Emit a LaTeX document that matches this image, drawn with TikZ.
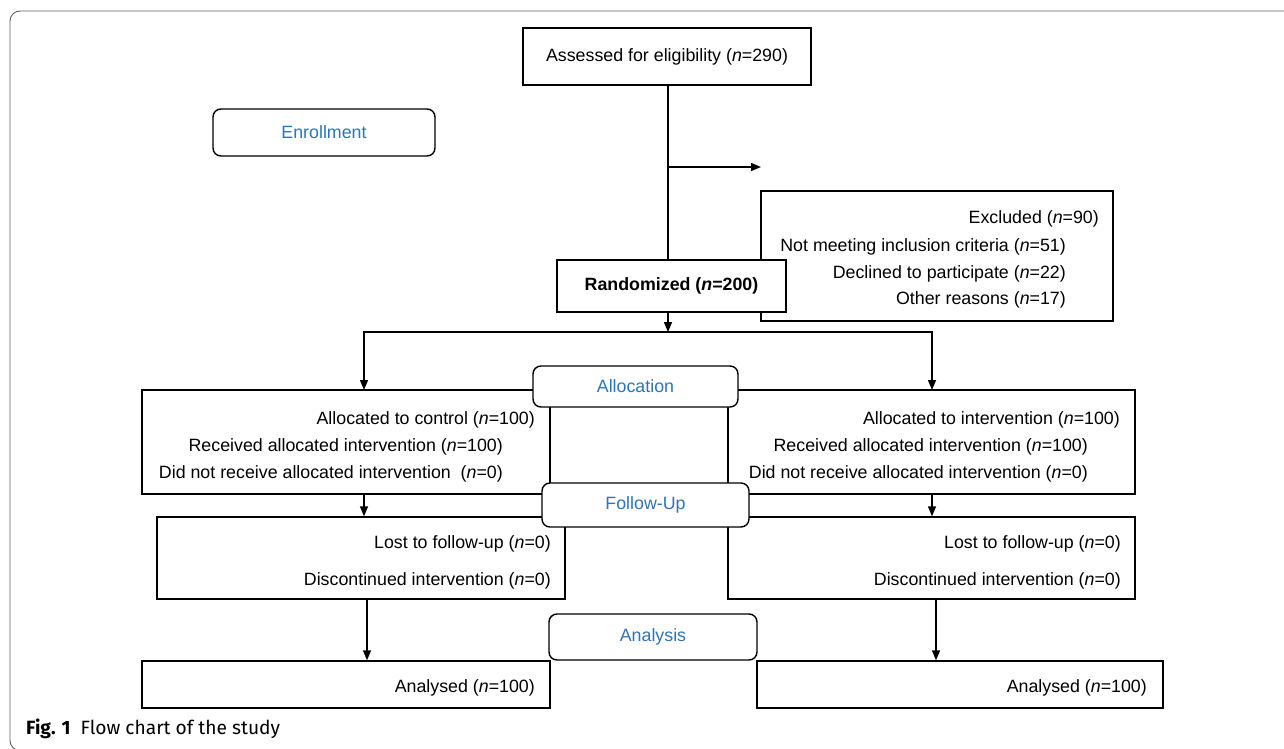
\documentclass[tikz,border=0pt]{standalone}
\usepackage{fontspec}
\setmainfont{Liberation Sans}
\newfontfamily\capfont{Fira Sans}
\usetikzlibrary{arrows.meta}
\definecolor{lblblue}{RGB}{46,117,182}
\definecolor{framegray}{RGB}{95,95,95}
\begin{document}
\begin{tikzpicture}[x=1pt,y=-1pt,
  every node/.style={font=\fontsize{17.8}{21}\selectfont},
  box/.style={draw, line width=1.4pt, fill=white, inner sep=0pt},
  phase/.style={box, rounded corners=8pt, text=lblblue},
  lbl/.style={anchor=east, inner sep=0pt, text height=12.7pt, text depth=0pt},
  arr/.style={line width=1.4pt, -{Triangle[length=10pt,width=8pt]}},
  conn/.style={line width=1.4pt}]
\useasboundingbox (0,0) rectangle (1284,749);
\begin{scope}
  \clip (0,0) rectangle (1284,749);
  \draw[framegray, line width=0.9pt, rounded corners=10pt] (1300,11) -- (10,11) -- (10,750.5) -- (1300,750.5);
\end{scope}

% enrollment
\node[box, minimum width=288pt, minimum height=57pt] (assess) at (667,56.5) {Assessed for eligibility (\textit{n}=290)};
\node[phase, minimum width=222pt, minimum height=47pt] (enroll) at (324,132.5) {Enrollment};
\node[box, minimum width=352pt, minimum height=130pt] (excl) at (937,256) {};
\node[lbl] (ex1) at (1099,217) {Excluded (\textit{n}=90)};
\node[lbl] (ex2) at (1066,245) {Not meeting inclusion criteria (\textit{n}=51)};
\node[lbl] (ex3) at (1066,272) {Declined to participate (\textit{n}=22)};
\node[lbl] (ex4) at (1066,298) {Other reasons (\textit{n}=17)};
\node[box, minimum width=229pt, minimum height=52pt] (rand) at (671.5,286) {\textbf{Randomized (\textit{n}=200)}};

\coordinate (y167) at (0,167);
\coordinate (exTip) at (761,167);
\coordinate (split) at (668,332);
\coordinate (aLin) at (364,390);
\coordinate (aRin) at (932,390);
\coordinate (bL) at (367,600);
\coordinate (bR) at (936,600);

\draw[conn] (assess.south -| split) -- (rand.north -| split);
\draw[arr] (split |- y167) -- (exTip);
\draw[arr] (rand.south -| split) -- (split);
\draw[arr] (split) -| (aLin);
\draw[arr] (split) -| (aRin);

% allocation
\node[box, minimum width=408pt, minimum height=104pt] (allocL) at (346,442) {};
\node[box, minimum width=407pt, minimum height=104pt] (allocR) at (931.5,442) {};
\node[lbl] (al1) at (535,418) {Allocated to control (\textit{n}=100)};
\node[lbl] (al2) at (503,445) {Received allocated intervention (\textit{n}=100)};
\node[lbl] (al3) at (503,472) {Did not receive allocated intervention\ \ (\textit{n}=0)};
\node[lbl] (ar1) at (1120,418) {Allocated to intervention (\textit{n}=100)};
\node[lbl] (ar2) at (1088,445) {Received allocated intervention (\textit{n}=100)};
\node[lbl] (ar3) at (1088,472) {Did not receive allocated intervention (\textit{n}=0)};

% follow-up
\node[box, minimum width=408pt, minimum height=82pt] (fuL) at (361,558) {};
\node[box, minimum width=407pt, minimum height=82pt] (fuR) at (931.5,558) {};
\node[lbl] (fl1) at (551,542) {Lost to follow-up (\textit{n}=0)};
\node[lbl] (fl2) at (551,579) {Discontinued intervention (\textit{n}=0)};
\node[lbl] (fr1) at (1121,542) {Lost to follow-up (\textit{n}=0)};
\node[lbl] (fr2) at (1121,579) {Discontinued intervention (\textit{n}=0)};

\draw[arr] (allocL.south -| aLin) -- (fuL.north -| aLin);
\draw[arr] (allocR.south -| aRin) -- (fuR.north -| aRin);

% analysis
\node[box, minimum width=408pt, minimum height=47pt] (anaL) at (346,684.5) {};
\node[box, minimum width=406pt, minimum height=47pt] (anaR) at (960,684.5) {};
\node[lbl] (nl) at (535,686) {Analysed (\textit{n}=100)};
\node[lbl] (nr) at (1147,686) {Analysed (\textit{n}=100)};

\draw[arr] (fuL.south -| bL) -- (anaL.north -| bL);
\draw[arr] (fuR.south -| bR) -- (anaR.north -| bR);

% phase labels on top
\node[phase, minimum width=205pt, minimum height=41pt] (alloc) at (635.5,386.5) {Allocation};
\node[phase, minimum width=207pt, minimum height=44pt] (fu) at (645.5,505) {Follow-Up};
\node[phase, minimum width=208pt, minimum height=46pt] (ana) at (653,637) {Analysis};

% caption
\node[anchor=west, inner sep=0pt, font=\capfont\fontsize{19.2}{22}\selectfont] (cap) at (26,729) {\textbf{Fig. 1}\hspace{10pt}Flow chart of the study};
\end{tikzpicture}
\end{document}
